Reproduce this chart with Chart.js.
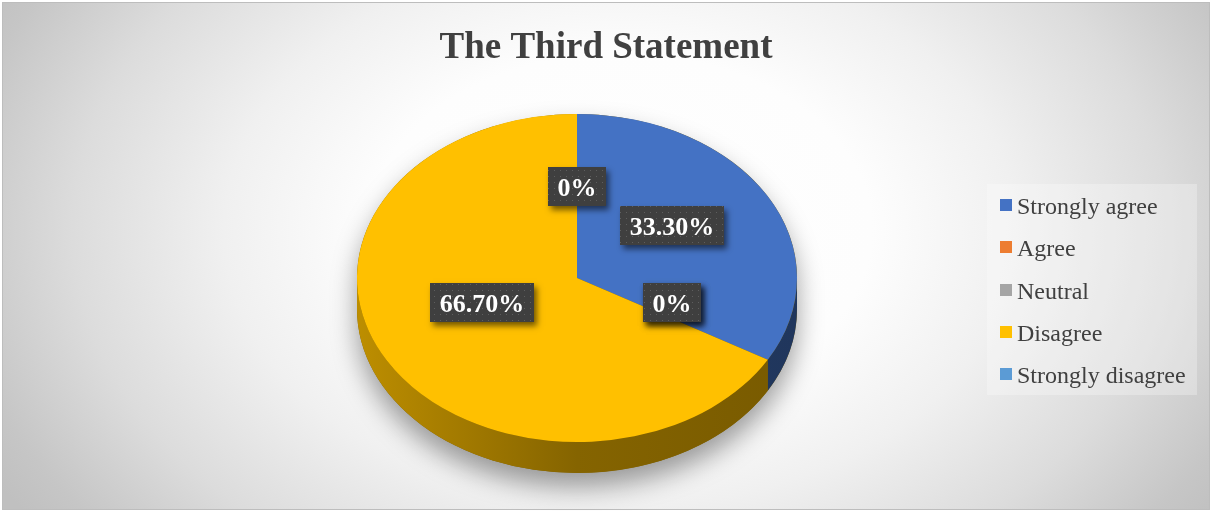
<!DOCTYPE html>
<html>
<head>
<meta charset="utf-8">
<script src="https://cdn.jsdelivr.net/npm/chart.js@4.4.1/dist/chart.umd.min.js"></script>
<style>
  html, body { margin: 0; padding: 0; background: #ffffff; }
  #wrap { width: 1212px; height: 511px; }
  canvas { display: block; }
</style>
</head>
<body>
<div id="wrap"><canvas id="chart" width="1212" height="511"></canvas></div>
<script>
// Survey answers for the third statement (percent of respondents)
const categories = ['Strongly agree', 'Agree', 'Neutral', 'Disagree', 'Strongly disagree'];
const shares = [33.3, 0, 0, 66.7, 0];
const sliceColors = ['#4472C4', '#ED7D31', '#A5A5A5', '#FFC000', '#5B9BD5'];
const chartTitle = 'The Third Statement';

// Percent label text, written from the same values the slices use
function percentText(v) {
  return v === 0 ? '0%' : v.toFixed(2) + '%';
}

// Geometry of the tilted pie on the page
const disc = { cx: 577, cy: 278, rx: 220, ry: 164, depth: 31, labelLift: -14, labelRx: 0.5, labelRy: 0.47 };

function shade(hex, f) {
  const n = parseInt(hex.slice(1), 16);
  const r = Math.round(((n >> 16) & 255) * f);
  const g = Math.round(((n >> 8) & 255) * f);
  const b = Math.round((n & 255) * f);
  return 'rgb(' + r + ',' + g + ',' + b + ')';
}

// Small dotted tile used behind the percent labels
function dotTile() {
  const c = document.createElement('canvas');
  c.width = 6; c.height = 6;
  const t = c.getContext('2d');
  t.fillStyle = '#3f3f3f';
  t.fillRect(0, 0, 6, 6);
  t.fillStyle = '#5e5e5e';
  t.fillRect(2, 2, 1, 1);
  return c;
}

const pie3d = {
  id: 'pie3d',
  beforeDraw(chart) {
    const ctx = chart.ctx;
    const W = chart.width, H = chart.height;
    ctx.save();
    ctx.fillStyle = '#ffffff';
    ctx.fillRect(0, 0, W, H);
    // soft radial backdrop
    ctx.save();
    ctx.beginPath();
    ctx.rect(2, 2, W - 4, H - 4);
    ctx.clip();
    ctx.translate(620, 230);
    ctx.scale(1, 0.7);
    const g = ctx.createRadialGradient(0, 0, 0, 0, 0, 720);
    g.addColorStop(0, '#ffffff');
    g.addColorStop(0.35, '#fdfdfd');
    g.addColorStop(0.55, '#f0f0f0');
    g.addColorStop(0.76, '#dcdcdc');
    g.addColorStop(0.93, '#c6c6c6');
    g.addColorStop(1, '#c0c0c0');
    ctx.fillStyle = g;
    ctx.fillRect(-700, -500, 1500, 1000);
    ctx.restore();
    ctx.strokeStyle = '#bdbdbd';
    ctx.lineWidth = 1;
    ctx.strokeRect(2.5, 2.5, W - 5, H - 4);

    // legend panel and entries
    const lg = { x: 987, y: 184, w: 210, h: 211, rowTop: 205, rowGap: 42.3 };
    ctx.fillStyle = 'rgba(255,255,255,0.28)';
    ctx.fillRect(lg.x, lg.y, lg.w, lg.h);
    ctx.font = '24px "Liberation Serif"';
    ctx.textBaseline = 'alphabetic';
    ctx.textAlign = 'left';
    chart.data.labels.forEach((name, i) => {
      const yc = lg.rowTop + i * lg.rowGap;
      ctx.fillStyle = chart.data.datasets[0].backgroundColor[i];
      ctx.fillRect(1000, Math.round(yc - 6), 12, 12);
      ctx.fillStyle = '#404040';
      ctx.fillText(name, 1017, yc + 9);
    });
    ctx.restore();
  },
  beforeDatasetsDraw(chart) {
    const ctx = chart.ctx;
    const meta = chart.getDatasetMeta(0);
    const ref = meta.data[0];
    const { cx, cy, rx, ry, depth } = disc;

    // body silhouette with a soft drop shadow
    ctx.save();
    ctx.shadowColor = 'rgba(0,0,0,0.38)';
    ctx.shadowBlur = 26;
    ctx.shadowOffsetY = 14;
    ctx.fillStyle = '#7f6000';
    ctx.beginPath();
    ctx.ellipse(cx, cy, rx, ry, 0, Math.PI, 0, false);
    ctx.ellipse(cx, cy + depth, rx, ry, 0, 0, Math.PI, false);
    ctx.closePath();
    ctx.fill();
    ctx.restore();

    // front side wall of each slice
    meta.data.forEach((arc, i) => {
      const s = arc.startAngle, e = arc.endAngle;
      if (e - s <= 0) return;
      const base = chart.data.datasets[0].backgroundColor[i];
      for (let k = -1; k <= 2; k++) {
        const lo = Math.max(s, 2 * Math.PI * k);
        const hi = Math.min(e, 2 * Math.PI * k + Math.PI);
        if (hi <= lo) continue;
        const grad = ctx.createLinearGradient(cx - rx, 0, cx + rx, 0);
        grad.addColorStop(0, shade(base, 0.74));
        grad.addColorStop(0.5, shade(base, 0.52));
        grad.addColorStop(1, shade(base, 0.47));
        ctx.fillStyle = grad;
        ctx.beginPath();
        ctx.ellipse(cx, cy, rx, ry, 0, lo, hi, false);
        ctx.ellipse(cx, cy + depth, rx, ry, 0, hi, lo, true);
        ctx.closePath();
        ctx.fill();
      }
    });

    // tilt the library's round pie into the top face
    ctx.save();
    ctx.translate(cx, cy);
    ctx.scale(rx / ref.outerRadius, ry / ref.outerRadius);
    ctx.translate(-ref.x, -ref.y);
  },
  afterDatasetsDraw(chart) {
    const ctx = chart.ctx;
    ctx.restore();
    const meta = chart.getDatasetMeta(0);
    const values = chart.data.datasets[0].data;
    const pattern = ctx.createPattern(dotTile(), 'repeat');
    const { cx, cy, rx, ry, labelLift, labelRx, labelRy } = disc;
    meta.data.forEach((arc, i) => {
      const mid = (arc.startAngle + arc.endAngle) / 2;
      const x = cx + labelRx * rx * Math.cos(mid);
      const y = cy + labelLift + labelRy * ry * Math.sin(mid);
      const text = percentText(values[i]);
      ctx.save();
      ctx.font = 'bold 26px "Liberation Serif"';
      const w = Math.round(ctx.measureText(text).width + 19);
      const h = 39;
      const bx = Math.round(x - w / 2), by = Math.round(y - h / 2);
      ctx.shadowColor = 'rgba(0,0,0,0.55)';
      ctx.shadowBlur = 6;
      ctx.shadowOffsetX = 3;
      ctx.shadowOffsetY = 4;
      ctx.fillStyle = '#404040';
      ctx.fillRect(bx, by, w, h);
      ctx.shadowColor = 'transparent';
      ctx.fillStyle = pattern;
      ctx.fillRect(bx, by, w, h);
      ctx.fillStyle = '#ffffff';
      ctx.textAlign = 'center';
      ctx.textBaseline = 'alphabetic';
      ctx.fillText(text, bx + w / 2, by + h / 2 + 9);
      ctx.restore();
    });
  }
};

new Chart(document.getElementById('chart'), {
  type: 'pie',
  data: {
    labels: categories,
    datasets: [{
      data: shares,
      backgroundColor: sliceColors,
      borderWidth: 0,
      clip: false
    }]
  },
  options: {
    responsive: false,
    devicePixelRatio: 1,
    animation: false,
    events: [],
    layout: { padding: { left: 0, right: 0, top: 10, bottom: 40 } },
    plugins: {
      legend: { display: false },
      tooltip: { enabled: false },
      title: {
        display: true,
        text: chartTitle,
        color: '#404040',
        font: { family: '"Liberation Serif"', size: 37, weight: 'bold' },
        padding: { top: 16, bottom: 10 }
      }
    }
  },
  plugins: [pie3d]
});
</script>
</body>
</html>
